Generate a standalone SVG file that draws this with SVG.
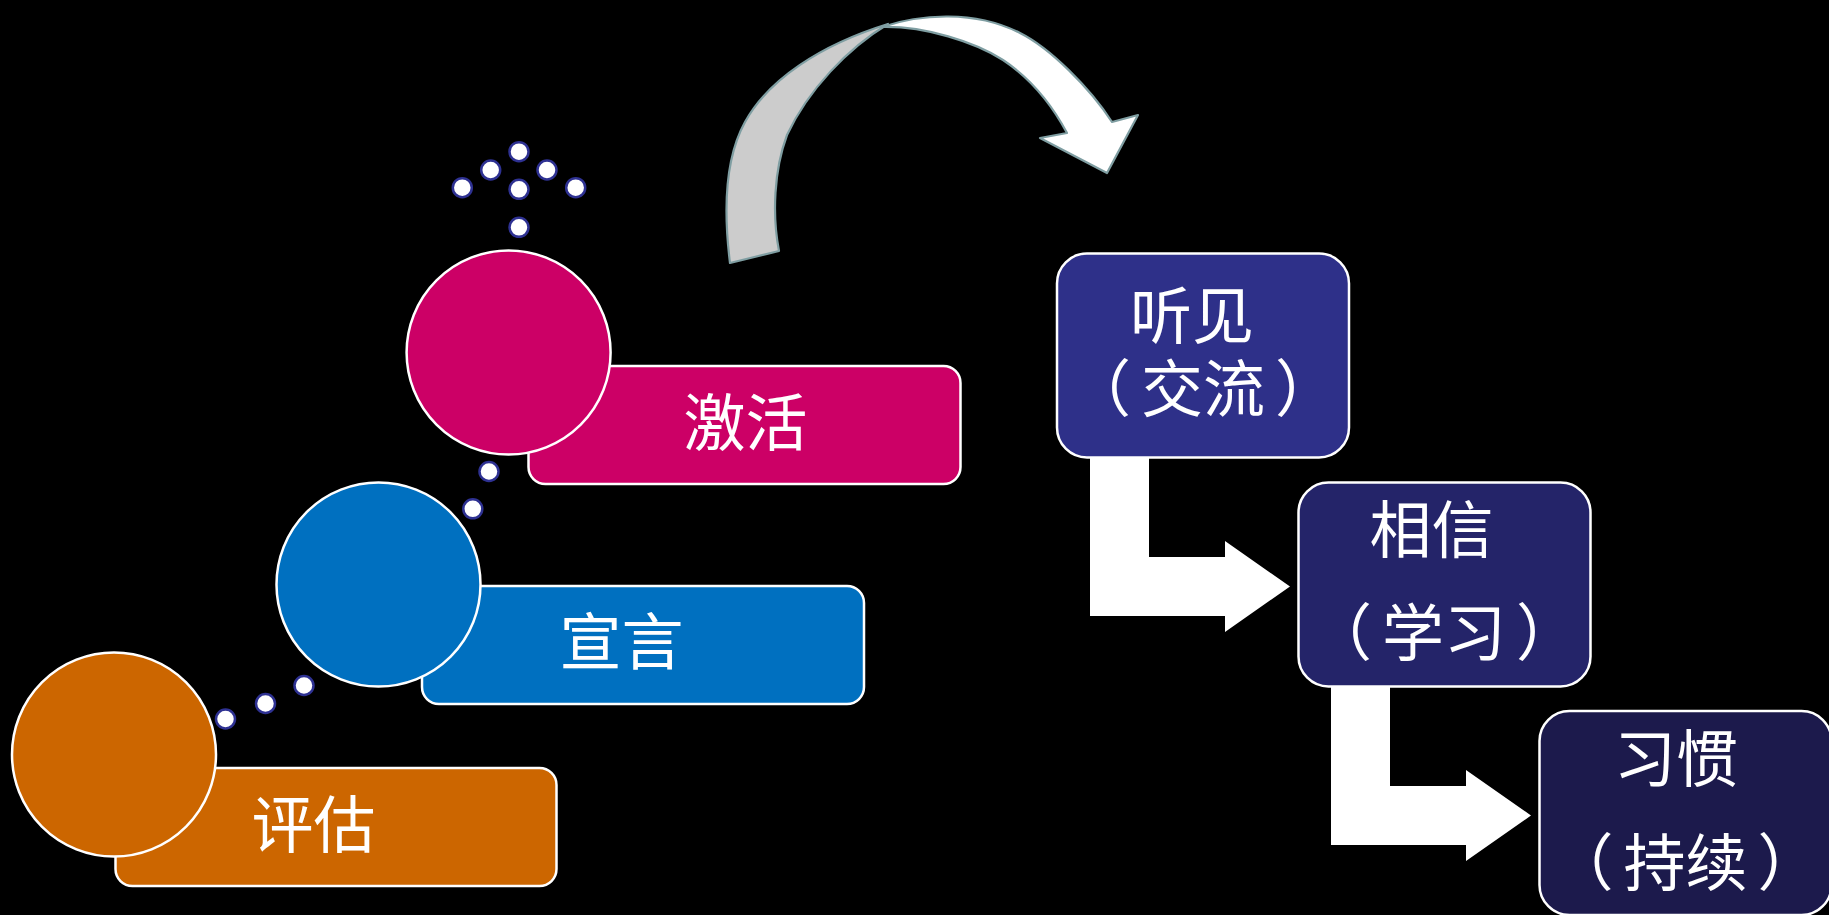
<svg xmlns="http://www.w3.org/2000/svg" width="1829" height="915" viewBox="0 0 1829 915">
<style>
.bg{fill:#000}
.lbl{font-family:"Noto Sans CJK SC","Noto Sans CJK TC",sans-serif;font-size:62px;fill:#fff;text-anchor:middle}
.edge{stroke:#fff;stroke-width:2.5}
.dot{fill:#fff;stroke:#2E3192;stroke-width:2.5}
.curve{stroke:#7F9EA2;stroke-width:2.2;stroke-linejoin:round}
.bent{fill:#fff}
.box{stroke:#fff;stroke-width:2.5}
</style>
<rect class="bg" x="0" y="0" width="1829" height="915"/>

<g id="connectors">
  <g id="dots">
    <circle class="dot" cx="225.5" cy="719" r="9.5"/>
    <circle class="dot" cx="265.5" cy="703.5" r="9.5"/>
    <circle class="dot" cx="304" cy="685.5" r="9.5"/>
    <circle class="dot" cx="472.8" cy="508.8" r="9.5"/>
    <circle class="dot" cx="489" cy="471.5" r="9.5"/>
    <circle class="dot" cx="519" cy="151.7" r="9.5"/>
    <circle class="dot" cx="490.7" cy="170" r="9.5"/>
    <circle class="dot" cx="547" cy="170" r="9.5"/>
    <circle class="dot" cx="462.3" cy="187.7" r="9.5"/>
    <circle class="dot" cx="519" cy="189.3" r="9.5"/>
    <circle class="dot" cx="575.7" cy="187.7" r="9.5"/>
    <circle class="dot" cx="519" cy="227.3" r="9.5"/>
  </g>
  <g id="curved-arrow">
    <path class="curve" fill="#CCCCCC" d="M730,263 C724,215 724,160 745,122 C768,80 820,45 888,24 C848,48 808,90 787,135 C774,170 772,215 779,251 Z"/>
    <path class="curve" fill="#FFFFFF" d="M882,27 C920,14 975,10 1020,33 C1050,48 1090,88 1112,122 L1138,115 L1107,173 L1040,138 L1067,133 C1052,105 1030,78 1003,60 C975,42 925,26 882,27 Z"/>
  </g>
  <path id="bent-arrow-1" class="bent" d="M1090,445 L1149,445 L1149,557 L1225,557 L1225,541 L1290,586.5 L1225,632 L1225,616 L1090,616 Z"/>
  <path id="bent-arrow-2" class="bent" d="M1331,674 L1390,674 L1390,786 L1466,786 L1466,770 L1531,815.5 L1466,861 L1466,845 L1331,845 Z"/>
</g>

<g id="node-pinggu">
  <rect class="edge" x="115.5" y="768" width="441" height="118" rx="17" fill="#CC6600"/>
  <circle class="edge" cx="114" cy="754.5" r="102" fill="#CC6600"/>
  <text class="lbl" x="313.5" y="847.5">评估</text>
</g>
<g id="node-xuanyan">
  <rect class="edge" x="422" y="586" width="442" height="118" rx="17" fill="#0070C0"/>
  <circle class="edge" cx="378.5" cy="584.5" r="102" fill="#0070C0"/>
  <text class="lbl" x="621.5" y="665">宣言</text>
</g>
<g id="node-jihuo">
  <rect class="edge" x="528.5" y="366" width="432" height="118" rx="17" fill="#CC0066"/>
  <circle class="edge" cx="508.6" cy="352.5" r="102" fill="#CC0066"/>
  <text class="lbl" x="745.5" y="445.5">激活</text>
</g>

<g id="node-tingjian">
  <rect class="box" x="1057" y="253.5" width="292" height="204" rx="30" fill="#2E3089"/>
  <text class="lbl" x="1192" y="338.5">听见</text>
  <text class="lbl" x="1203" y="411.5">（<tspan dx="10">交流</tspan><tspan dx="10">）</tspan></text>
</g>
<g id="node-xiangxin">
  <rect class="box" x="1298.5" y="482.5" width="292" height="204" rx="30" fill="#242469"/>
  <text class="lbl" x="1431.5" y="552.5">相信</text>
  <text class="lbl" x="1444" y="655.5">（<tspan dx="10">学习</tspan><tspan dx="10">）</tspan></text>
</g>
<g id="node-xiguan">
  <rect class="box" x="1539.5" y="711" width="292" height="204" rx="30" fill="#1C1A4C"/>
  <text class="lbl" x="1676" y="781.5">习惯</text>
  <text class="lbl" x="1685.5" y="885.5">（<tspan dx="10">持续</tspan><tspan dx="10">）</tspan></text>
</g>
</svg>
